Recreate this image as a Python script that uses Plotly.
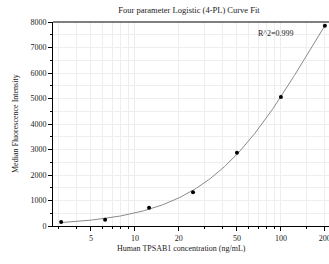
import numpy as np
import plotly.graph_objects as go

# Data
conc = [3.125, 6.25, 12.5, 25, 50, 100, 200]
mfi = [155, 250, 715, 1325, 2870, 5055, 7855]
x_tick_vals = [5, 10, 20, 50, 100, 200]
x_tick_text = ["5", "10", "20", "50", "100", "200"]
x_minor_vals = [3, 4, 6, 7, 8, 9, 30, 40, 60, 70, 80, 90, 150, 300]
y_tick_vals = [0, 1000, 2000, 3000, 4000, 5000, 6000, 7000, 8000]
r2_text = "R^2=0.999"

# 4-PL fit: y = d + (a - d) / (1 + (x/c)^b), grid search over b, c; linear LS for a, d
xa = np.array(conc, dtype=float)
ya = np.array(mfi, dtype=float)
best = None
for b in np.linspace(0.5, 3.0, 126):
    for c in np.logspace(0.5, 5, 400):
        g = 1.0 / (1.0 + (xa / c) ** b)
        A = np.column_stack([g, 1 - g])
        coef, *_ = np.linalg.lstsq(A, ya, rcond=None)
        res = np.sum((A @ coef - ya) ** 2)
        if best is None or res < best[0]:
            best = (res, b, c, coef[0], coef[1])
_, b, c, a, d = best
xf = np.logspace(np.log10(conc[0]), np.log10(conc[-1]), 200)
yf = d + (a - d) / (1 + (xf / c) ** b)

serif = "Liberation Serif, Times New Roman, serif"
txt = "#1a1a1a"

fig = go.Figure()
fig.add_trace(go.Scatter(x=xf, y=yf, mode="lines",
                         line=dict(color="#8a8a8a", width=1), hoverinfo="skip"))
fig.add_trace(go.Scatter(x=conc, y=mfi, mode="markers",
                         marker=dict(color="black", size=4)))

fig.update_layout(
    width=329, height=264,
    margin=dict(l=53, r=0, t=22, b=38, autoexpand=False),
    paper_bgcolor="white", plot_bgcolor="white",
    showlegend=False,
    font=dict(family=serif, size=8, color=txt),
    title=dict(text="Four parameter Logistic (4-PL) Curve Fit",
               x=189 / 329, xref="container", xanchor="center",
               y=1 - 10 / 264, yref="container", yanchor="middle",
               font=dict(family=serif, size=8.5, color=txt)),
    xaxis=dict(type="log", range=[0.439, 0.439 + 276 / 146], automargin=False,
               tickmode="array", tickvals=x_tick_vals, ticktext=x_tick_text,
               ticks="outside", ticklen=4, tickcolor="black",
               ticklabeloverflow="allow",
               showline=True, linecolor="black", linewidth=1,
               showgrid=True, gridcolor="#eeeeee", gridwidth=1,
               zeroline=False,
               tickfont=dict(family=serif, size=8, color=txt),
               minor=dict(tickmode="array", tickvals=x_minor_vals,
                          ticks="outside", ticklen=2, tickcolor="black",
                          showgrid=True, gridcolor="#eeeeee")),
    yaxis=dict(range=[0, 8000], tickmode="array", tickvals=y_tick_vals, automargin=False,
               ticks="outside", ticklen=4, tickcolor="black",
               showline=True, linecolor="black", linewidth=1,
               showgrid=True, gridcolor="#eeeeee", gridwidth=1,
               zeroline=False,
               tickfont=dict(family=serif, size=8, color=txt),
               minor=dict(dtick=500, ticks="outside", ticklen=2,
                          tickcolor="black", showgrid=True, gridcolor="#eeeeee")),
    shapes=[dict(type="line", xref="paper", yref="paper", x0=0, x1=1, y0=1, y1=1,
                 line=dict(color="#555", width=1.5))],
    annotations=[
        dict(text=r2_text, xref="paper", yref="paper",
             x=(276 - 53) / 276, y=1 - (33 - 22) / 204, showarrow=False,
             xanchor="center", yanchor="middle",
             font=dict(family=serif, size=8, color=txt)),
        dict(text="Human TPSAB1 concentration (ng/mL)", xref="paper", yref="paper",
             x=(181 - 53) / 276, y=-(248 - 226) / 204, showarrow=False,
             xanchor="center", yanchor="middle",
             font=dict(family=serif, size=8, color=txt)),
        dict(text="Median Fluorescence Intensity", xref="paper", yref="paper",
             x=-(53 - 15) / 276, y=0.5, showarrow=False, textangle=-90,
             xanchor="center", yanchor="middle",
             font=dict(family=serif, size=8, color=txt)),
    ],
)

fig.write_html("out.html", config={"displayModeBar": False},
               post_script="document.body.style.margin='0';document.body.style.overflow='hidden';")
